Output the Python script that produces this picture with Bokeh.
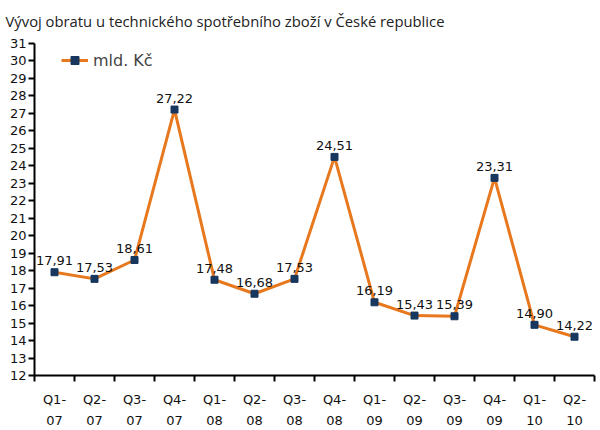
from bokeh.plotting import figure
from bokeh.models import FixedTicker, ColumnDataSource, Legend, LegendItem, Title
from bokeh.core.properties import value
from bokeh.embed import file_html
from bokeh.resources import INLINE

categories = ["Q1-\n07", "Q2-\n07", "Q3-\n07", "Q4-\n07", "Q1-\n08", "Q2-\n08", "Q3-\n08",
              "Q4-\n08", "Q1-\n09", "Q2-\n09", "Q3-\n09", "Q4-\n09", "Q1-\n10", "Q2-\n10"]
values = [17.91, 17.53, 18.61, 27.22, 17.48, 16.68, 17.53, 24.51, 16.19, 15.43, 15.39, 23.31, 14.90, 14.22]
labels = ["17,91", "17,53", "18,61", "27,22", "17,48", "16,68", "17,53", "24,51", "16,19", "15,43", "15,39", "23,31", "14,90", "14,22"]
title = "Vývoj obratu u technického spotřebního zboží v České republice"
series_name = "mld. Kč"

n = len(categories)
xs = list(range(n))
src = ColumnDataSource(dict(x=xs, y=values, lab=labels))

p = figure(width=600, height=430, output_backend="svg", toolbar_location=None,
           x_range=(-0.5, n - 0.5), y_range=(12, 31),
           min_border_left=34, min_border_right=6, min_border_top=43, min_border_bottom=53)
p.outline_line_color = None
p.grid.grid_line_color = None
p.background_fill_color = "white"
p.border_fill_color = "white"

# spacer title that pushes the real title upward
p.add_layout(Title(text=" ", text_font_size="10px", standoff=0), "above")

p.title.text = title
p.title.text_font = "Open Sans"
p.title.text_font_size = "14.8px"
p.title.text_font_style = "normal"
p.title.text_color = "#222222"
p.title.offset = -29
p.title.standoff = 0

line = p.line("x", "y", source=src, line_color="#E8781E", line_width=3)
sq = p.scatter("x", "y", source=src, marker="square", size=7, fill_color="#17375E", line_color="#17375E")
p.text("x", "y", text="lab", source=src, text_align="center", text_baseline="bottom",
       y_offset=-7, text_font=value("DejaVu Sans"), text_font_size="13px", text_color="#111111")

# axes
xa = p.xaxis[0]
xa.ticker = FixedTicker(ticks=xs, minor_ticks=[i - 0.5 for i in range(n + 1)])
xa.major_label_overrides = {i: c for i, c in enumerate(categories)}
xa.major_tick_out = 0
xa.major_tick_in = 0
xa.minor_tick_out = 6
xa.minor_tick_in = 0
xa.minor_tick_line_width = 2
xa.minor_tick_line_color = "black"
xa.axis_line_width = 2
xa.axis_line_color = "black"
xa.major_label_text_font = "DejaVu Sans"
xa.major_label_text_font_size = "13px"
xa.major_label_text_color = "#111111"
xa.major_label_text_line_height = 1.4
xa.major_label_standoff = 10

ya = p.yaxis[0]
ya.ticker = FixedTicker(ticks=list(range(12, 32)))
ya.major_tick_out = 6
ya.major_tick_in = 0
ya.major_tick_line_width = 2
ya.minor_tick_line_color = None
ya.axis_line_width = 2
ya.axis_line_color = "black"
ya.major_label_text_font = "DejaVu Sans"
ya.major_label_text_font_size = "13px"
ya.major_label_text_color = "#111111"
ya.major_label_standoff = 2

legend = Legend(items=[LegendItem(label=series_name, renderers=[line, sq])],
                location=(27, 305), border_line_color=None, background_fill_alpha=0,
                label_text_font="DejaVu Sans", label_text_font_size="16px",
                glyph_width=27, padding=0, margin=0, label_standoff=5)
p.add_layout(legend, "center")

open("out.html", "w").write(file_html(p, INLINE))
